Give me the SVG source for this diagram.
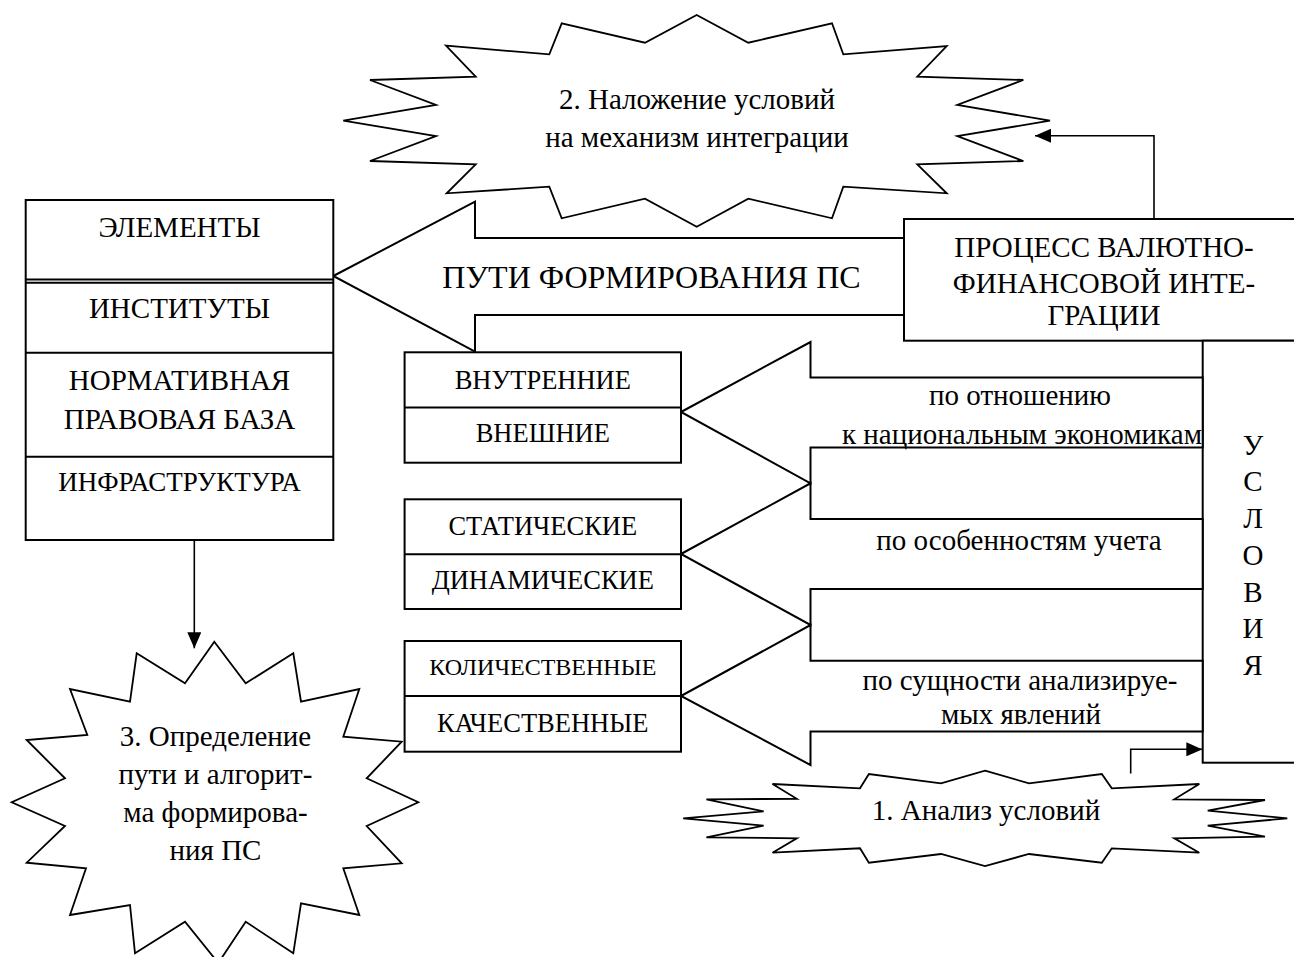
<svg xmlns="http://www.w3.org/2000/svg" width="1294" height="957" viewBox="0 0 1294 957">
<style>
.s{fill:#fff;stroke:#000;stroke-width:1.8;stroke-linejoin:miter}
.b{fill:#fff;stroke:#000;stroke-width:2}
.l{fill:none;stroke:#000;stroke-width:2}
.c{fill:none;stroke:#000;stroke-width:1.6}
text{font-family:"Liberation Serif","Times New Roman",serif;font-size:29px;fill:#000;text-anchor:middle}
.m{font-size:26.5px}
.k{font-size:24px}
.i{font-size:27px}
.p{font-size:32px}
</style>
<defs>
<marker id="ah" markerUnits="userSpaceOnUse" markerWidth="16" markerHeight="14" refX="16" refY="7" orient="auto">
<path d="M0,0 L16,7 L0,14 Z" fill="#000"/>
</marker>
</defs>
<rect width="1294" height="957" fill="#fff"/>

<g id="star2">
<polygon class="s" points="696.7,15 748.3,42.7 832,23.3 843.3,54.3 946.7,46 917.3,76.7 1023.3,80 957.3,105 1050,120.7 957.3,136 1023.3,161 917.3,164.3 946.7,193.3 843.3,186.7 832,218.3 748.3,198.7 696.7,226.7 645,198.7 561.7,218.3 549.3,186.7 446.7,193.3 475.7,164.3 370,161 436,136 343.3,120.7 436,105 370,80 475.7,76.7 446,45.7 549.3,54.3 561.7,23.3 645,42.7"/>
<text x="697" y="109">2. Наложение условий</text>
<text x="697" y="147">на механизм интеграции</text>
</g>

<g id="paths-arrow">
<polygon class="b" points="333.3,276 475,201.7 475,238 904,238 904,315 475,315 475,351.7"/>
<text class="p" x="651.5" y="288">ПУТИ ФОРМИРОВАНИЯ ПС</text>
</g>

<g id="elements">
<rect class="b" x="25.7" y="200" width="307.6" height="340"/>
<line class="l" x1="25.7" y1="279.5" x2="333.3" y2="279.5"/>
<line class="l" x1="25.7" y1="282.7" x2="333.3" y2="282.7"/>
<line class="l" x1="25.7" y1="352.7" x2="333.3" y2="352.7"/>
<line class="l" x1="25.7" y1="456.7" x2="333.3" y2="456.7"/>
<text x="179.5" y="237">ЭЛЕМЕНТЫ</text>
<text x="179.5" y="318">ИНСТИТУТЫ</text>
<text x="179.5" y="390">НОРМАТИВНАЯ</text>
<text x="179.5" y="429">ПРАВОВАЯ БАЗА</text>
<text class="i" x="179.5" y="491">ИНФРАСТРУКТУРА</text>
</g>

<g id="process">
<rect class="b" x="904" y="219" width="400" height="121.7"/>
<text x="1104" y="257">ПРОЦЕСС ВАЛЮТНО-</text>
<text x="1104" y="293">ФИНАНСОВОЙ ИНТЕ-</text>
<text x="1104" y="325">ГРАЦИИ</text>
</g>

<g id="conditions">
<rect class="b" x="1202.7" y="340.7" width="200" height="422"/>
<text x="1253" y="454.5">У</text>
<text x="1253" y="491.2">С</text>
<text x="1253" y="528">Л</text>
<text x="1253" y="564.7">О</text>
<text x="1253" y="601.5">В</text>
<text x="1253" y="638.2">И</text>
<text x="1253" y="675">Я</text>
</g>

<g id="arrow-national">
<polygon class="b" points="681,412 810.5,342 810.5,377.5 1202.7,377.5 1202.7,447.5 810.5,447.5 810.5,483.3"/>
<text x="1020" y="405">по отношению</text>
<text x="1022" y="444">к национальным экономикам</text>
</g>
<g id="arrow-accounting">
<polygon class="b" points="681,554 810.5,483.3 810.5,519 1202.7,519 1202.7,589 810.5,589 810.5,625"/>
<text x="1019" y="549.5">по особенностям учета</text>
</g>
<g id="arrow-essence">
<polygon class="b" points="681,696 810.5,625 810.5,660.7 1202.7,660.7 1202.7,731.5 810.5,731.5 810.5,765"/>
<text x="1020" y="690">по сущности анализируе-</text>
<text x="1021" y="724">мых явлений</text>
</g>

<g id="box-internal-external">
<rect class="b" x="404.6" y="352.3" width="276.4" height="110.4"/>
<line class="l" x1="404.6" y1="407.5" x2="681" y2="407.5"/>
<text class="m" x="542.8" y="388.5">ВНУТРЕННИЕ</text>
<text class="m" x="542.8" y="442">ВНЕШНИЕ</text>
</g>
<g id="box-static-dynamic">
<rect class="b" x="404.6" y="499.3" width="276.4" height="109.7"/>
<line class="l" x1="404.6" y1="554.3" x2="681" y2="554.3"/>
<text class="m" x="542.8" y="535">СТАТИЧЕСКИЕ</text>
<text class="m" x="542.8" y="589">ДИНАМИЧЕСКИЕ</text>
</g>
<g id="box-quant-qual">
<rect class="b" x="404.6" y="641" width="276.4" height="110.7"/>
<line class="l" x1="404.6" y1="696" x2="681" y2="696"/>
<text class="k" x="542.8" y="675">КОЛИЧЕСТВЕННЫЕ</text>
<text class="m" x="542.8" y="731.5">КАЧЕСТВЕННЫЕ</text>
</g>

<g id="star1">
<polygon class="s" points="985,770.7 1029,783.3 1101.8,774 1111.8,788.3 1199.3,784 1174.3,799.3 1265,800 1207.7,810.7 1287.3,818.3 1207.7,825.7 1265,836.7 1174.3,838.3 1199.3,852.7 1111.8,848.3 1101.8,862.7 1029,854 985,866 941,854 868.9,862.7 860,848.3 772.5,852.7 796.8,838.3 706.4,837.3 763.6,825.7 683.2,818.3 763.6,811.3 706.4,799.3 796.8,798.8 772.5,784 860,788.3 868.9,774 941,783.3"/>
<text x="986" y="820">1. Анализ условий</text>
</g>

<g id="star3">
<polygon class="s" points="214.3,641.7 245.7,683.3 293.3,653.3 301,701.7 359.3,689 343.3,736.7 401.7,741.7 366.7,778.3 418.3,802.3 366.7,826 401.7,863.3 343.3,868.3 359.3,915 301,903.3 293.3,953.3 245.7,921.7 218.3,963 185,921.7 135,953.3 130,905 70,915 86,868.3 26.7,862.7 65,826 11.7,802.3 65,778.3 26.7,740 87.3,735 70,689 130,701.7 136.7,653.3 185,683.3"/>
<text x="215.5" y="746">3. Определение</text>
<text x="215.5" y="784">пути и алгорит-</text>
<text x="215.5" y="822">ма формирова-</text>
<text x="215.5" y="860">ния ПС</text>
</g>

<g id="connectors">
<path class="c" d="M194.3,540 V648.3" marker-end="url(#ah)"/>
<path class="c" d="M1154,219 V135.7 H1035" marker-end="url(#ah)"/>
<path class="c" d="M1130.7,773.5 V749.3 H1202.3" marker-end="url(#ah)"/>
</g>
</svg>
